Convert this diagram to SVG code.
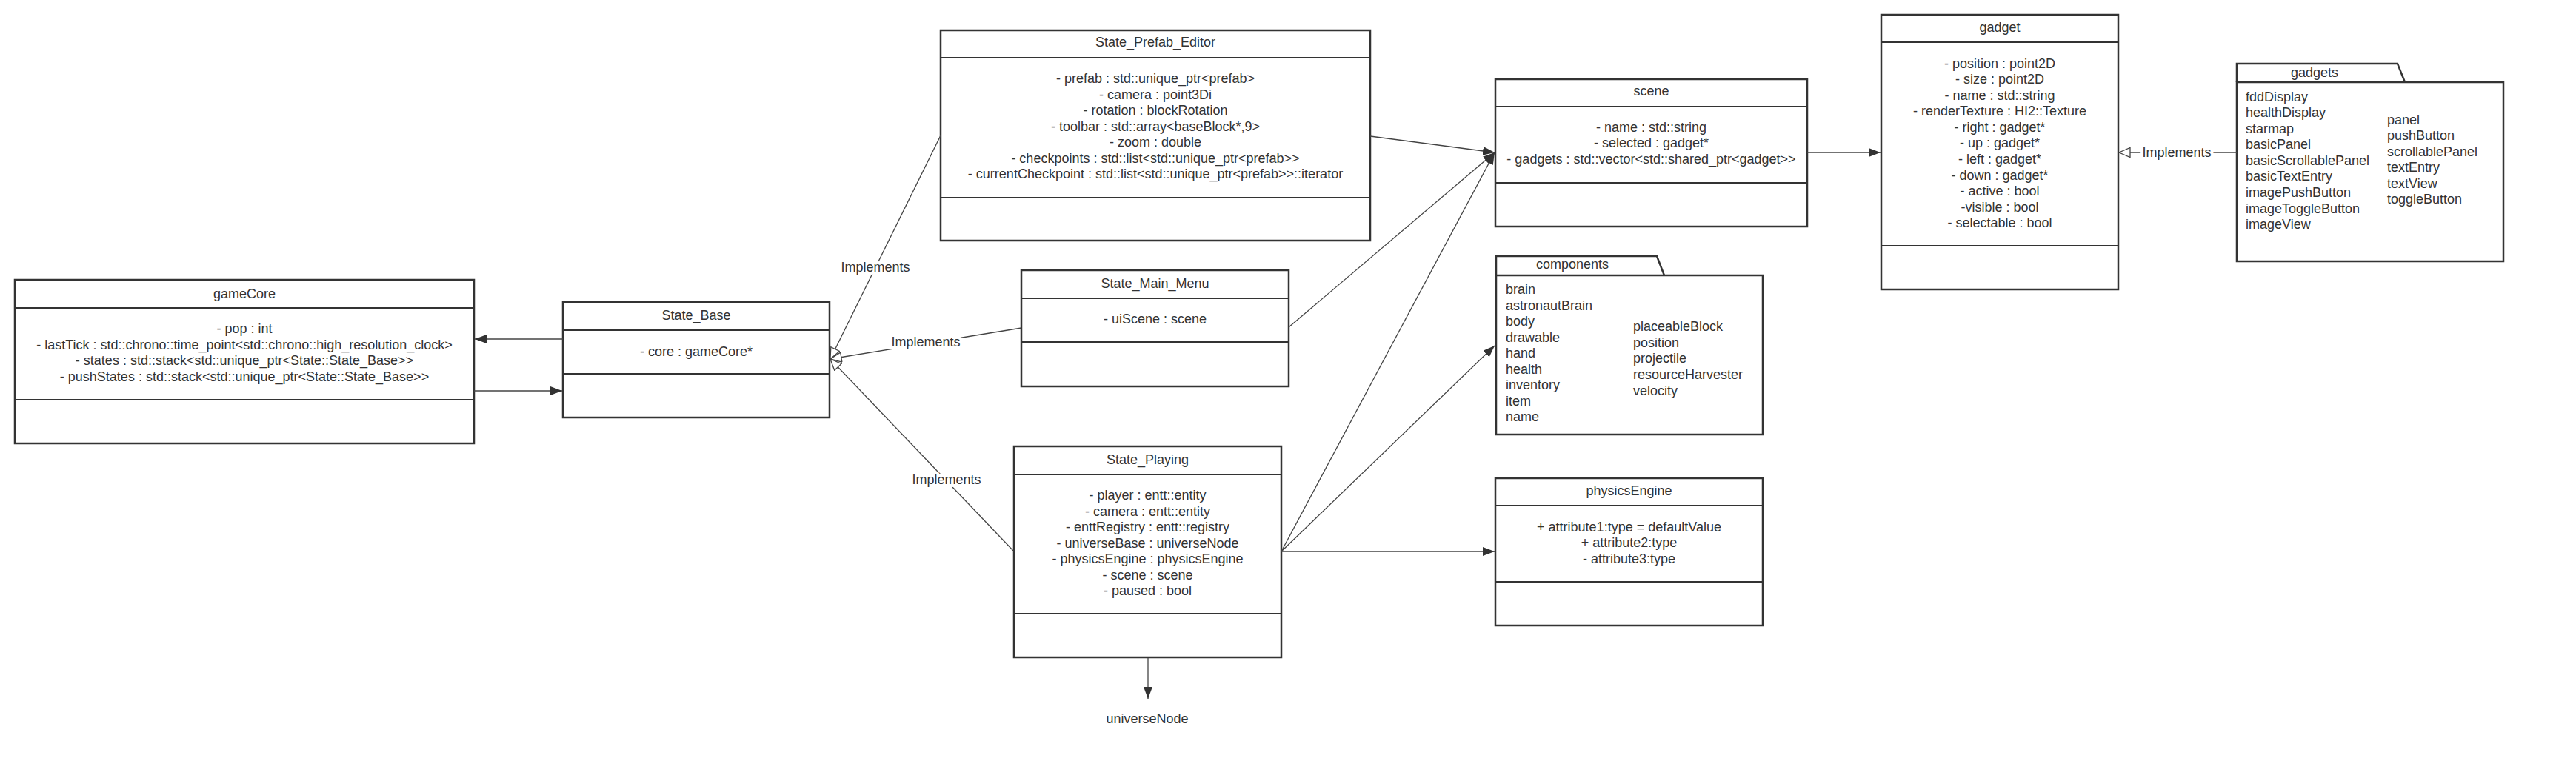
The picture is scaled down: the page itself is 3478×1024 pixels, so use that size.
<svg xmlns="http://www.w3.org/2000/svg" width="3478" height="1024" viewBox="0 0 3478 1024">
<style>
.box{fill:#fff;stroke:#333;stroke-width:2.5}
.div{stroke:#333;stroke-width:2}
text{font-family:"Liberation Sans",Arial,sans-serif;font-size:18px;fill:#333}
.c{text-anchor:middle}
.l{text-anchor:start}
.conn{stroke:#444;stroke-width:1.3;fill:none}
.lbl{text-anchor:middle;stroke:#fff;stroke-width:8;paint-order:stroke;stroke-linejoin:round}
</style>
<defs>
<marker id="fa" markerUnits="userSpaceOnUse" markerWidth="18" markerHeight="12" refX="16" refY="6" orient="auto"><path d="M0,0 L16,6 L0,12 z" fill="#333"/></marker>
<marker id="ha" markerUnits="userSpaceOnUse" markerWidth="18" markerHeight="16" refX="16" refY="7" orient="auto"><path d="M1,0.5 L16,7 L1,13.5 z" fill="#fff" stroke="#444" stroke-width="1.3"/></marker>
</defs>
<rect width="3478" height="1024" fill="#fff"/>

<g id="gameCore">
<rect class="box" x="20" y="378" width="620" height="221"/>
<line class="div" x1="20" y1="416" x2="640" y2="416"/>
<line class="div" x1="20" y1="540" x2="640" y2="540"/>
<text class="c" x="330" y="403">gameCore</text>
<text class="c" x="330" y="450">- pop : int</text>
<text class="c" x="330" y="472">- lastTick : std::chrono::time_point&lt;std::chrono::high_resolution_clock&gt;</text>
<text class="c" x="330" y="493">- states : std::stack&lt;std::unique_ptr&lt;State::State_Base&gt;&gt;</text>
<text class="c" x="330" y="515">- pushStates : std::stack&lt;std::unique_ptr&lt;State::State_Base&gt;&gt;</text>
</g>

<g id="State_Base">
<rect class="box" x="760" y="408" width="360" height="156"/>
<line class="div" x1="760" y1="446" x2="1120" y2="446"/>
<line class="div" x1="760" y1="505" x2="1120" y2="505"/>
<text class="c" x="940" y="432">State_Base</text>
<text class="c" x="940" y="481">- core : gameCore*</text>
</g>

<g id="State_Prefab_Editor">
<rect class="box" x="1270" y="41" width="580" height="284"/>
<line class="div" x1="1270" y1="78" x2="1850" y2="78"/>
<line class="div" x1="1270" y1="267" x2="1850" y2="267"/>
<text class="c" x="1560" y="63">State_Prefab_Editor</text>
<text class="c" x="1560" y="112">- prefab : std::unique_ptr&lt;prefab&gt;</text>
<text class="c" x="1560" y="134">- camera : point3Di</text>
<text class="c" x="1560" y="155">- rotation : blockRotation</text>
<text class="c" x="1560" y="177">- toolbar : std::array&lt;baseBlock*,9&gt;</text>
<text class="c" x="1560" y="198">- zoom : double</text>
<text class="c" x="1560" y="220">- checkpoints : std::list&lt;std::unique_ptr&lt;prefab&gt;&gt;</text>
<text class="c" x="1560" y="241">- currentCheckpoint : std::list&lt;std::unique_ptr&lt;prefab&gt;&gt;::iterator</text>
</g>

<g id="State_Main_Menu">
<rect class="box" x="1379" y="365" width="361" height="157"/>
<line class="div" x1="1379" y1="403" x2="1740" y2="403"/>
<line class="div" x1="1379" y1="462" x2="1740" y2="462"/>
<text class="c" x="1559.5" y="389">State_Main_Menu</text>
<text class="c" x="1559.5" y="437">- uiScene : scene</text>
</g>

<g id="State_Playing">
<rect class="box" x="1369" y="603" width="361" height="285"/>
<line class="div" x1="1369" y1="641" x2="1730" y2="641"/>
<line class="div" x1="1369" y1="829" x2="1730" y2="829"/>
<text class="c" x="1549.5" y="627">State_Playing</text>
<text class="c" x="1549.5" y="675">- player : entt::entity</text>
<text class="c" x="1549.5" y="697">- camera : entt::entity</text>
<text class="c" x="1549.5" y="718">- enttRegistry : entt::registry</text>
<text class="c" x="1549.5" y="740">- universeBase : universeNode</text>
<text class="c" x="1549.5" y="761">- physicsEngine : physicsEngine</text>
<text class="c" x="1549.5" y="783">- scene : scene</text>
<text class="c" x="1549.5" y="804">- paused : bool</text>
</g>

<g id="scene">
<rect class="box" x="2019" y="107" width="421" height="199"/>
<line class="div" x1="2019" y1="144" x2="2440" y2="144"/>
<line class="div" x1="2019" y1="247" x2="2440" y2="247"/>
<text class="c" x="2229.5" y="129">scene</text>
<text class="c" x="2229.5" y="178">- name : std::string</text>
<text class="c" x="2229.5" y="199">- selected : gadget*</text>
<text class="c" x="2229.5" y="221">- gadgets : std::vector&lt;std::shared_ptr&lt;gadget&gt;&gt;</text>
</g>

<g id="components">
<path class="box" d="M2020,372 L2020,346 L2237,346 L2247,372"/>
<rect class="box" x="2020" y="372" width="360" height="215"/>
<text class="c" x="2123" y="363">components</text>
<text class="l" x="2033" y="397">brain</text>
<text class="l" x="2033" y="419">astronautBrain</text>
<text class="l" x="2033" y="440">body</text>
<text class="l" x="2033" y="462">drawable</text>
<text class="l" x="2033" y="483">hand</text>
<text class="l" x="2033" y="505">health</text>
<text class="l" x="2033" y="526">inventory</text>
<text class="l" x="2033" y="548">item</text>
<text class="l" x="2033" y="569">name</text>
<text class="l" x="2205" y="447">placeableBlock</text>
<text class="l" x="2205" y="469">position</text>
<text class="l" x="2205" y="490">projectile</text>
<text class="l" x="2205" y="512">resourceHarvester</text>
<text class="l" x="2205" y="534">velocity</text>
</g>

<g id="physicsEngine">
<rect class="box" x="2019" y="646" width="361" height="199"/>
<line class="div" x1="2019" y1="683" x2="2380" y2="683"/>
<line class="div" x1="2019" y1="786" x2="2380" y2="786"/>
<text class="c" x="2199.5" y="669">physicsEngine</text>
<text class="c" x="2199.5" y="718">+ attribute1:type = defaultValue</text>
<text class="c" x="2199.5" y="739">+ attribute2:type</text>
<text class="c" x="2199.5" y="761">- attribute3:type</text>
</g>

<g id="gadget">
<rect class="box" x="2540" y="20" width="320" height="371"/>
<line class="div" x1="2540" y1="57" x2="2860" y2="57"/>
<line class="div" x1="2540" y1="332" x2="2860" y2="332"/>
<text class="c" x="2700" y="43">gadget</text>
<text class="c" x="2700" y="92">- position : point2D</text>
<text class="c" x="2700" y="113">- size : point2D</text>
<text class="c" x="2700" y="135">- name : std::string</text>
<text class="c" x="2700" y="156">- renderTexture : HI2::Texture</text>
<text class="c" x="2700" y="178">- right : gadget*</text>
<text class="c" x="2700" y="199">- up : gadget*</text>
<text class="c" x="2700" y="221">- left : gadget*</text>
<text class="c" x="2700" y="243">- down : gadget*</text>
<text class="c" x="2700" y="264">- active : bool</text>
<text class="c" x="2700" y="286">-visible : bool</text>
<text class="c" x="2700" y="307">- selectable : bool</text>
</g>

<g id="gadgets">
<path class="box" d="M3020,111 L3020,86 L3237,86 L3247,111"/>
<rect class="box" x="3020" y="111" width="360" height="242"/>
<text class="c" x="3125" y="104">gadgets</text>
<text class="l" x="3032" y="137">fddDisplay</text>
<text class="l" x="3032" y="158">healthDisplay</text>
<text class="l" x="3032" y="180">starmap</text>
<text class="l" x="3032" y="201">basicPanel</text>
<text class="l" x="3032" y="223">basicScrollablePanel</text>
<text class="l" x="3032" y="244">basicTextEntry</text>
<text class="l" x="3032" y="266">imagePushButton</text>
<text class="l" x="3032" y="288">imageToggleButton</text>
<text class="l" x="3032" y="309">imageView</text>
<text class="l" x="3223" y="168">panel</text>
<text class="l" x="3223" y="189">pushButton</text>
<text class="l" x="3223" y="211">scrollablePanel</text>
<text class="l" x="3223" y="232">textEntry</text>
<text class="l" x="3223" y="254">textView</text>
<text class="l" x="3223" y="275">toggleButton</text>
</g>

<g id="universeNode">
<text class="c" x="1549" y="977">universeNode</text>
</g>

<g id="connectors">
<line class="conn" x1="760" y1="458" x2="641" y2="458" marker-end="url(#fa)"/>
<line class="conn" x1="640" y1="528" x2="759" y2="528" marker-end="url(#fa)"/>
<line class="conn" x1="1270" y1="183" x2="1121" y2="485" marker-end="url(#ha)"/>
<line class="conn" x1="1379" y1="443" x2="1121" y2="485" marker-end="url(#ha)"/>
<line class="conn" x1="1369" y1="745" x2="1121" y2="485" marker-end="url(#ha)"/>
<text class="lbl" x="1182" y="367">Implements</text>
<text class="lbl" x="1250" y="468">Implements</text>
<text class="lbl" x="1278" y="654">Implements</text>
<line class="conn" x1="1850" y1="184" x2="2018" y2="206" marker-end="url(#fa)"/>
<line class="conn" x1="1740" y1="442" x2="2018" y2="206" marker-end="url(#fa)"/>
<line class="conn" x1="1730" y1="745" x2="2018" y2="206" marker-end="url(#fa)"/>
<line class="conn" x1="1730" y1="745" x2="2018" y2="467" marker-end="url(#fa)"/>
<line class="conn" x1="1730" y1="745" x2="2018" y2="745" marker-end="url(#fa)"/>
<line class="conn" x1="1550" y1="889" x2="1550" y2="944" marker-end="url(#fa)"/>
<line class="conn" x1="2440" y1="206" x2="2539" y2="206" marker-end="url(#fa)"/>
<line class="conn" x1="3020" y1="206" x2="2861" y2="206" marker-end="url(#ha)"/>
<text class="lbl" x="2939" y="212">Implements</text>
</g>
</svg>
